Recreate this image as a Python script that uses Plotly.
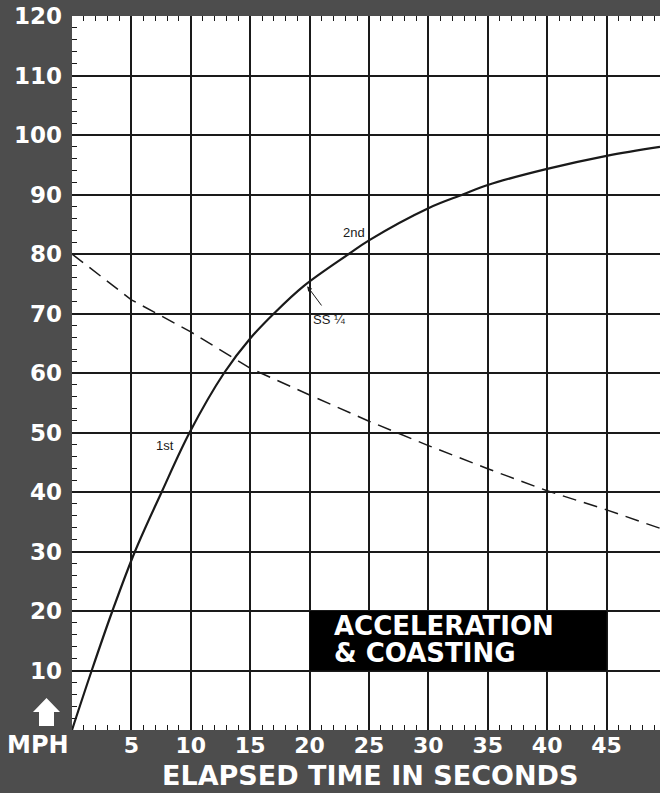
import plotly.graph_objects as go

# --- data ---
accel_t = [0, 1.66, 3.4, 5.3, 7.55, 9.9, 12.8, 15, 17, 19.5, 23.3, 25, 30, 32.9, 35, 40, 45, 49.5]
accel_mph = [0, 10, 20, 30, 40, 50, 60, 65.8, 70, 74.6, 80, 82.3, 87.7, 90, 91.6, 94.3, 96.5, 98]

coast_t = [0, 5, 10, 15, 20, 25, 30, 35, 40, 45, 49.5]
coast_mph = [80, 72.3, 66.9, 60.8, 56.3, 51.9, 47.8, 43.9, 40.2, 37.0, 33.9]

x_ticks = [5, 10, 15, 20, 25, 30, 35, 40, 45]
y_ticks = [10, 20, 30, 40, 50, 60, 70, 80, 90, 100, 110, 120]

W, H = 660, 793
ML, MR, MT, MB = 72, 0, 16, 63
X_MAX = 49.5
Y_MAX = 120

BOLD = "DejaVu Sans"
INK = "#1a1a1a"

fig = go.Figure()
fig.add_trace(go.Scatter(x=accel_t, y=accel_mph, mode="lines",
                         line=dict(color=INK, width=2.2, shape="spline", smoothing=1.0),
                         hoverinfo="skip", showlegend=False))
fig.add_trace(go.Scatter(x=coast_t, y=coast_mph, mode="lines",
                         line=dict(color=INK, width=1.5, dash="14px,8px"),
                         hoverinfo="skip", showlegend=False))

# title box
fig.add_shape(type="rect", xref="x", yref="y", x0=20, x1=45, y0=10, y1=20,
              fillcolor="black", line=dict(width=0), layer="above")
fig.add_annotation(x=21.9, y=17.4, xref="x", yref="y", text="ACCELERATION",
                   showarrow=False, xanchor="left", yanchor="middle",
                   font=dict(family=BOLD, size=26, color="white", weight="bold"))
fig.add_annotation(x=21.9, y=13.0, xref="x", yref="y", text="&amp; COASTING",
                   showarrow=False, xanchor="left", yanchor="middle",
                   font=dict(family=BOLD, size=26, color="white", weight="bold"))

# curve labels
small = dict(family="Liberation Sans", size=13, color=INK)
fig.add_annotation(x=7.8, y=47.9, text="1st", showarrow=False, font=small)
fig.add_annotation(x=23.7, y=83.6, text="2nd", showarrow=False, font=small)
fig.add_annotation(x=21.6, y=69.0, text="SS ¼", showarrow=False, font=small)
fig.add_annotation(x=19.8, y=74.6, ax=21.1, ay=71.1, axref="x", ayref="y",
                   xref="x", yref="y", text="", showarrow=True,
                   arrowhead=2, arrowsize=1, arrowwidth=1, arrowcolor=INK)

# MPH arrow + label (outside plot, paper coords)
pw = W - ML - MR
ph = H - MT - MB
def px(X):
    return (X - ML) / pw
def py(Y):
    return (H - MB - Y) / ph
pts = [(33, 712), (46.5, 698), (60, 712), (54, 712), (54, 726), (39, 726), (39, 712)]
path = "M " + " L ".join("{:.5f},{:.5f}".format(px(a), py(b)) for a, b in pts) + " Z"
fig.add_shape(type="path", xref="paper", yref="paper", path=path,
              fillcolor="white", line=dict(width=0))
fig.add_annotation(x=px(38), y=py(745), xref="paper", yref="paper", text="MPH",
                   showarrow=False, xanchor="center", yanchor="middle",
                   font=dict(family=BOLD, size=24, color="white", weight="bold"))
# x-axis title
fig.add_annotation(x=px(370), y=py(775), xref="paper", yref="paper",
                   text="ELAPSED TIME IN SECONDS", showarrow=False,
                   xanchor="center", yanchor="middle",
                   font=dict(family=BOLD, size=27, color="white", weight="bold"))

fig.update_xaxes(range=[0, X_MAX], tickvals=x_ticks, ticktext=[str(v) for v in x_ticks],
                 showgrid=True, gridcolor=INK, gridwidth=1.5, zeroline=False,
                 showline=False, ticks="inside", ticklen=6, tickcolor=INK, tickwidth=1,
                 mirror="ticks", automargin=False,
                 minor=dict(ticks="inside", dtick=1, tick0=0, ticklen=5, tickcolor=INK,
                            tickwidth=1, showgrid=False),
                 tickfont=dict(family=BOLD, size=22, color="white", weight="bold"),
                 ticklabelstandoff=0,
                 fixedrange=True)
fig.update_yaxes(range=[0, Y_MAX], tickvals=y_ticks, ticktext=[str(v) for v in y_ticks],
                 showgrid=True, gridcolor=INK, gridwidth=1.5, zeroline=False,
                 showline=False, ticks="inside", ticklen=6, tickcolor=INK, tickwidth=1,
                 automargin=False,
                 minor=dict(ticks="inside", dtick=2, tick0=0, ticklen=5, tickcolor=INK,
                            tickwidth=1, showgrid=False),
                 tickfont=dict(family=BOLD, size=23, color="white", weight="bold"),
                 ticklabelstandoff=9,
                 fixedrange=True)

fig.update_layout(width=W, height=H, autosize=False,
                  margin=dict(l=ML, r=MR, t=MT, b=MB, pad=0, autoexpand=False),
                  paper_bgcolor="#4d4d4d", plot_bgcolor="white",
                  showlegend=False)

fig.write_html("out.html", config={"displayModeBar": False},
               post_script="document.body.style.margin='0';document.body.style.overflow='hidden';document.body.style.background='#4d4d4d';")
